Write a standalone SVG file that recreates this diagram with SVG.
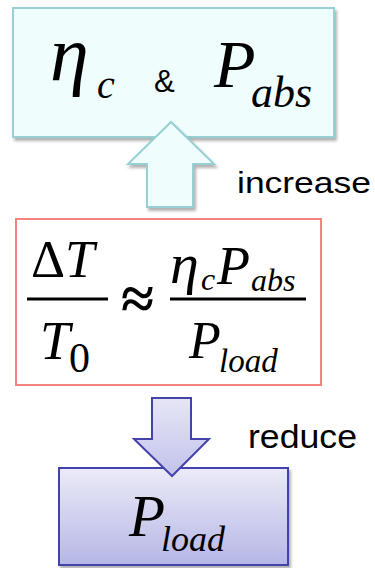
<svg xmlns="http://www.w3.org/2000/svg" width="375" height="568" viewBox="0 0 375 568">
  <style>
    .m { font-family: "Liberation Serif", "Times New Roman", serif; font-style: italic; fill: #000; }
    .r { font-family: "Liberation Serif", "Times New Roman", serif; fill: #000; }
    .s { font-family: "Liberation Sans", Arial, sans-serif; fill: #000; }
    .frac { stroke: #000; stroke-width: 3; }
  </style>
  <defs>
    <filter id="sh" x="-10%" y="-10%" width="130%" height="130%">
      <feDropShadow dx="2" dy="3" stdDeviation="1.5" flood-color="#000" flood-opacity="0.3"/>
    </filter>
    <linearGradient id="gBlue" x1="0" y1="0" x2="0" y2="1">
      <stop offset="0" stop-color="#ebebf8"/>
      <stop offset="1" stop-color="#b6b6e6"/>
    </linearGradient>
    <linearGradient id="gArrow" x1="0" y1="0" x2="0" y2="1">
      <stop offset="0" stop-color="#e6e6f6"/>
      <stop offset="1" stop-color="#c2c2ec"/>
    </linearGradient>
  </defs>

  <g id="node-top">
    <rect x="13" y="8" width="321" height="129" fill="#effdfd" stroke="#96d0d4" stroke-width="2" filter="url(#sh)"/>
    <text class="m" x="50" y="80" font-size="78">η</text>
    <text class="m" x="97" y="98" font-size="40">c</text>
    <text class="s" x="154" y="92" font-size="31">&amp;</text>
    <text class="m" x="214" y="87" font-size="68">P</text>
    <text class="m" x="251" y="107" font-size="44">abs</text>
  </g>

  <g id="node-middle">
    <rect x="16" y="219" width="305" height="166" fill="#ffffff" stroke="#f4837e" stroke-width="2"/>
    <text class="r" x="31" y="277" font-size="53">Δ<tspan class="m">T</tspan></text>
    <line class="frac" x1="27" y1="299" x2="108" y2="299"/>
    <text class="m" x="40" y="359" font-size="54">T</text>
    <text class="r" x="69" y="372" font-size="42">0</text>
    <text class="r" x="121" y="319" font-size="60" font-weight="bold">≈</text>
    <text class="m" x="170" y="283" font-size="58">η</text>
    <text class="m" x="201" y="290" font-size="32">c</text>
    <text class="m" x="217" y="284" font-size="54">P</text>
    <text class="m" x="251" y="291" font-size="32">abs</text>
    <line class="frac" x1="170" y1="299" x2="306" y2="299"/>
    <text class="m" x="189" y="358" font-size="52">P</text>
    <text class="m" x="219" y="372" font-size="33">load</text>
  </g>

  <g id="node-bottom">
    <rect x="59" y="468" width="229" height="97" fill="url(#gBlue)" stroke="#4343aa" stroke-width="2" filter="url(#sh)"/>
    <text class="m" x="129" y="536" font-size="59">P</text>
    <text class="m" x="161" y="551" font-size="36">load</text>
  </g>

  <g id="connectors">
    <polygon points="171,122 214,164 193,164 193,207 147,207 147,164 128,164" fill="#effdfd" stroke="#96d0d4" stroke-width="2" stroke-linejoin="miter" filter="url(#sh)"/>
    <text class="s" x="237" y="193" font-size="29" textLength="134" lengthAdjust="spacingAndGlyphs">increase</text>
    <polygon points="152,398 191,398 191,439 209,439 172,476 134,439 152,439" fill="url(#gArrow)" stroke="#4343aa" stroke-width="2" stroke-linejoin="miter"/>
    <text class="s" x="248" y="448" font-size="34" textLength="109" lengthAdjust="spacingAndGlyphs">reduce</text>
  </g>
</svg>
